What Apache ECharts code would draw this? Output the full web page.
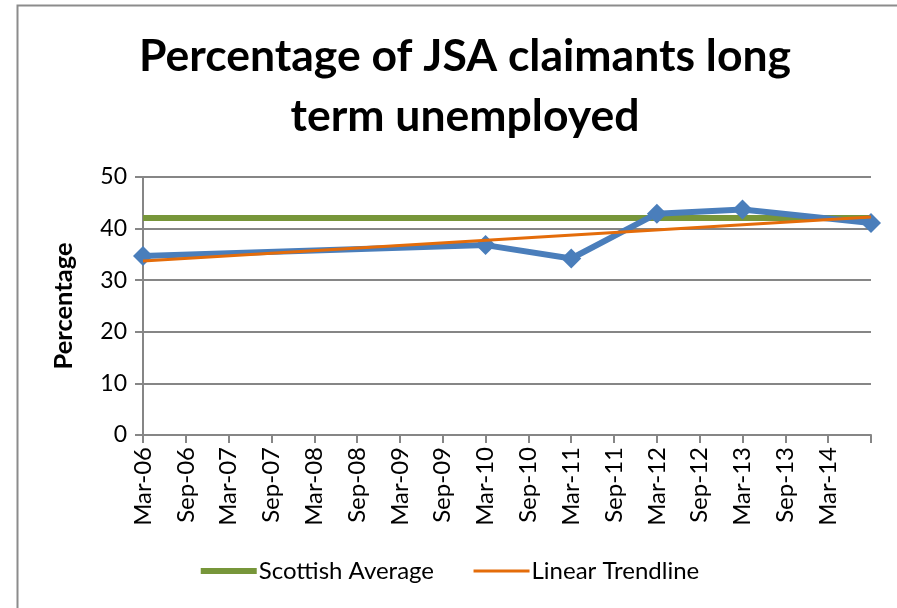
<!DOCTYPE html>
<html>
<head>
<meta charset="utf-8">
<script src="https://cdn.jsdelivr.net/npm/echarts@6/dist/echarts.min.js"></script>
<style>
  html, body { margin: 0; padding: 0; background: #fff; }
  #chart { width: 897px; height: 608px; }
</style>
</head>
<body>
<div id="chart"></div>
<script>
// half-yearly categories, last one (Sep-14) has no label in the original
const months = ['Mar-06','Sep-06','Mar-07','Sep-07','Mar-08','Sep-08','Mar-09','Sep-09',
  'Mar-10','Sep-10','Mar-11','Sep-11','Mar-12','Sep-12','Mar-13','Sep-13','Mar-14','Sep-14'];
const hiddenLabels = ['Sep-14'];

// long term unemployed share (only some periods have a value)
const claimants = [34.7, null, null, null, null, null, null, null,
  36.8, null, 34.2, null, 42.9, null, 43.7, null, null, 41.1];
const scottishAvg = [42.05, 42.05, 42.05, 42.05, 42.05, 42.05, 42.05, 42.05, 42.05,
  42.05, 42.05, 42.05, 42.05, 42.05, 42.05, 42.05, 42.05, 42.05];
// trendline endpoints
const trendline = [33.7, null, null, null, null, null, null, null, null,
  null, null, null, null, null, null, null, null, 42.25];

const font = 'Lato, "Open Sans", sans-serif';

const chart = echarts.init(document.getElementById('chart'));
chart.setOption({
  animation: false,
  title: {
    text: 'Percentage of JSA claimants long\nterm unemployed',
    left: 460,
    top: 22,
    textAlign: 'center',
    textStyle: { fontFamily: font, fontWeight: 'bold', fontSize: 44.5, lineHeight: 60, color: '#000' }
  },
  graphic: [{
    type: 'rect',
    shape: { x: 17.5, y: 5.5, width: 900, height: 620 },
    style: { fill: 'none', stroke: '#8c8c8c', lineWidth: 2 },
    silent: true
  }],
  grid: { left: 143, right: 26, top: 177, bottom: 173 },
  legend: {
    bottom: 20,
    left: 'center',
    itemGap: 38,
    itemWidth: 56,
    itemHeight: 12,
    data: [
      { name: 'Scottish Average', lineStyle: { width: 6 }, itemStyle: { opacity: 0 } },
      { name: 'Linear Trendline', lineStyle: { width: 3 }, itemStyle: { opacity: 0 } }
    ],
    textStyle: { fontFamily: font, fontSize: 24, color: '#000', padding: [0, 0, 0, -3] }
  },
  xAxis: {
    type: 'category',
    data: months,
    boundaryGap: false,
    axisLine: { lineStyle: { color: '#868686', width: 2 } },
    axisTick: { show: true, interval: 0, length: 8, lineStyle: { color: '#868686', width: 2 } },
    axisLabel: {
      interval: 0,
      rotate: 90,
      margin: 12,
      fontFamily: font,
      fontSize: 24,
      color: '#000',
      formatter: v => hiddenLabels.includes(v) ? '' : v
    }
  },
  yAxis: {
    type: 'value',
    min: 0,
    max: 50,
    interval: 10,
    name: 'Percentage',
    nameLocation: 'middle',
    nameGap: 66,
    nameTextStyle: { fontFamily: font, fontWeight: 'bold', fontSize: 25.5, color: '#000' },
    axisLine: { show: true, lineStyle: { color: '#868686', width: 2 } },
    axisTick: { show: true, length: 8, lineStyle: { color: '#868686', width: 2 } },
    axisLabel: { fontFamily: font, fontSize: 23, color: '#000', margin: 16 },
    splitLine: { lineStyle: { color: '#868686', width: 2 } }
  },
  series: [
    {
      name: 'Scottish Average',
      type: 'line',
      data: scottishAvg,
      symbol: 'none',
      lineStyle: { color: '#77963a', width: 6 },
      itemStyle: { color: '#77963a' },
      z: 2
    },
    {
      name: 'JSA claimants',
      type: 'line',
      data: claimants,
      connectNulls: true,
      symbol: 'diamond',
      symbolSize: 20,
      showAllSymbol: true,
      lineStyle: { color: '#4a7ebb', width: 6 },
      itemStyle: { color: '#4a7ebb' },
      z: 3
    },
    {
      name: 'Linear Trendline',
      type: 'line',
      data: trendline,
      connectNulls: true,
      symbol: 'none',
      lineStyle: { color: '#e46c0a', width: 3 },
      itemStyle: { color: '#e46c0a' },
      z: 4
    }
  ]
});
</script>
</body>
</html>
